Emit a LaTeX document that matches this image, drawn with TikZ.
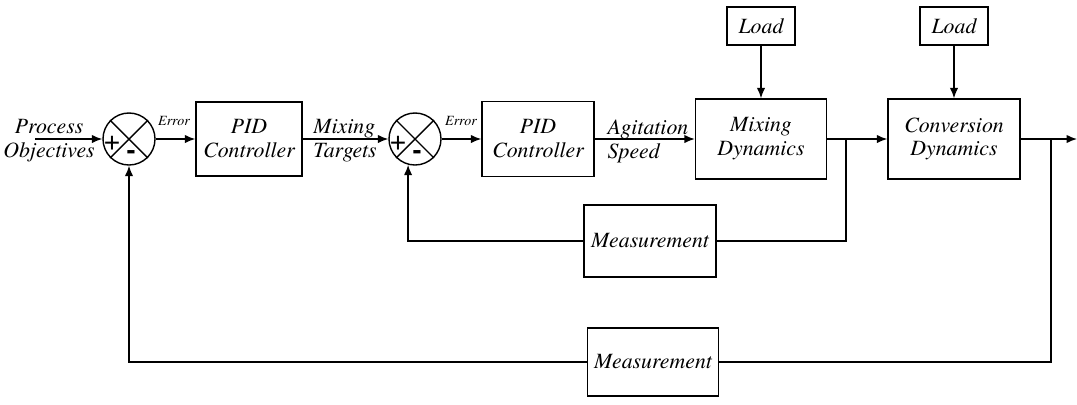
\documentclass[tikz,border=0pt]{standalone}
\usepackage{fontspec}
\newfontfamily\timesfont{texgyretermes}[Extension=.otf, UprightFont=*-regular, ItalicFont=*-italic]
\newfontfamily\signfont{Liberation Sans}
\usepackage{tikz}
\usetikzlibrary{arrows.meta,positioning,calc}
\tikzset{%
        block/.style = { draw, line width=1pt, align=center, inner sep=0pt, font=\timesfont\itshape\fontsize{15.5}{17}\selectfont },
       sumnode/.style = { circle, draw, line width=1pt, minimum size=1.3cm, inner sep=0pt },
          sig/.style = { -{Latex[length=2.6mm,width=2.1mm]}, line width=1pt },
         wire/.style = { line width=1pt },
      sigtext/.style = { inner sep=0pt, font=\timesfont\itshape\fontsize{15.5}{17}\selectfont },
     errlabel/.style = { inner sep=0pt, font=\timesfont\itshape\fontsize{10}{12}\selectfont },
     signmark/.style = { inner sep=0pt, font=\signfont\fontsize{20}{20}\selectfont }
}

\begin{document}
\begin{tikzpicture}[x=0.025cm,y=-0.025cm]
  \useasboundingbox (0,0) rectangle (1077,404);

  % summing junctions
  \node[sumnode] (sum1) at (129,139) {};
  \node[sumnode] (sum2) at (415,139) {};
  \foreach \s in {sum1,sum2} {
    \draw[wire] (\s.45) -- (\s.225);
    \draw[wire] (\s.135) -- (\s.-45);
    \node[signmark] (\s-plus) at ($(\s.center)+(-17,5)$) {+};
    \node[signmark, font=\signfont\bfseries\fontsize{20}{20}\selectfont] (\s-minus) at ($(\s.center)+(2,16)$) {-};
  }

  % forward path blocks
  \node[block, minimum width=2.65cm, minimum height=1.85cm] (pid1) at (249,139) {PID\\Controller};
  \node[block, minimum width=2.8cm, minimum height=1.875cm] (pid2) at (538,139) {PID\\Controller};
  \node[block, minimum width=3.275cm, minimum height=2cm] (mix) at (761,139) {Mixing\\Dynamics};
  \node[block, minimum width=3.3cm, minimum height=2cm] (conv) at (954,139) {Conversion\\Dynamics};
  \node[block, minimum width=1.7cm, minimum height=0.95cm] (load1) at (761,26) {Load};
  \node[block, minimum width=1.7cm, minimum height=0.95cm] (load2) at (954,26) {Load};

  % feedback blocks
  \node[block, minimum width=3.3cm, minimum height=1.8cm] (meas1) at (650,241) {Measurement};
  \node[block, minimum width=3.275cm, minimum height=1.7cm] (meas2) at (653,362) {Measurement};

  % signal labels
  \node[sigtext, align=center] (objtext) at (49,141) {Process\\Objectives};
  \node[sigtext, align=left] (tgttext) at (345,141) {Mixing\\Targets};
  \node[sigtext, align=left] (spdtext) at (648,141) {Agitation\\Speed};
  \node[errlabel] (err1) at (174,121) {Error};
  \node[errlabel] (err2) at (461,121) {Error};

  % end points and branch points
  \coordinate (in) at (35,139);
  \coordinate (out) at (1077,139);
  \coordinate (b1) at (846,139);
  \coordinate (b2) at (1051,139);

  % forward path
  \draw[sig] (in) -- (sum1.west);
  \draw[sig] (sum1.east) -- (pid1.west);
  \draw[sig] (pid1.east) -- (sum2.west);
  \draw[sig] (sum2.east) -- (pid2.west);
  \draw[sig] (pid2.east) -- (mix.west);
  \draw[sig] (mix.east) -- (conv.west);
  \draw[sig] (conv.east) -- (out);
  \draw[sig] (load1.south) -- (mix.north);
  \draw[sig] (load2.south) -- (conv.north);

  % feedback loops
  \draw[wire] (b1) |- (meas1.east);
  \draw[sig] (meas1.west) -| (sum2.255);
  \draw[wire] (b2) |- (meas2.east);
  \draw[sig] (meas2.west) -| (sum1.south);
\end{tikzpicture}
\end{document}
